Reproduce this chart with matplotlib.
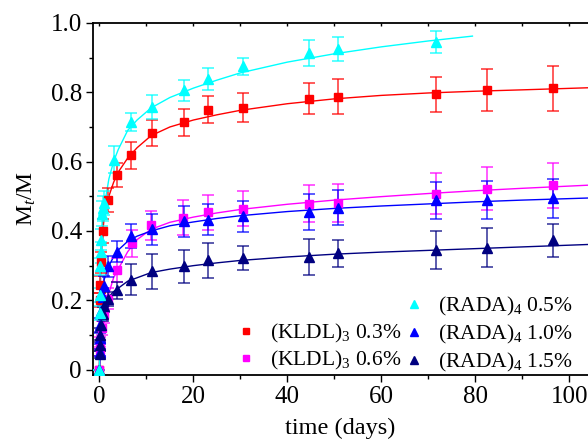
import numpy as np
import matplotlib
matplotlib.use("Agg")
import matplotlib.pyplot as plt
from matplotlib.lines import Line2D
from matplotlib.ticker import MultipleLocator

plt.rcParams['font.family'] = ['Liberation Serif', 'DejaVu Serif']
plt.rcParams['mathtext.fontset'] = 'custom'
plt.rcParams['mathtext.rm'] = 'Liberation Serif'
plt.rcParams['mathtext.it'] = 'Liberation Serif:italic'

# measured points: time (days), Mt/M, error
t_k03 = [0, 0.08, 0.17, 0.33, 0.67, 1.8, 3.7, 6.7, 11.1, 17.9, 23.1, 30.6, 44.7, 50.7, 71.6, 82.6, 96.6]
y_k03 = [0, 0.20, 0.245, 0.31, 0.40, 0.49, 0.561, 0.618, 0.683, 0.713, 0.750, 0.755, 0.782, 0.787, 0.794, 0.806, 0.811]
e_k03 = [0, 0.02, 0.025, 0.03, 0.035, 0.035, 0.035, 0.038, 0.038, 0.04, 0.04, 0.042, 0.046, 0.05, 0.05, 0.06, 0.066]

t_k06 = [0, 0.08, 0.17, 0.5, 1.0, 1.8, 3.8, 6.9, 11.0, 17.7, 23.0, 30.6, 44.7, 50.7, 71.6, 82.6, 96.6]
y_k06 = [0, 0.05, 0.08, 0.12, 0.16, 0.205, 0.287, 0.364, 0.416, 0.438, 0.454, 0.464, 0.479, 0.481, 0.507, 0.522, 0.532]
e_k06 = [0, 0.01, 0.015, 0.02, 0.025, 0.03, 0.035, 0.04, 0.043, 0.05, 0.05, 0.05, 0.054, 0.054, 0.059, 0.062, 0.065]

t_r10 = [0, 0.04, 0.08, 0.17, 0.33, 0.67, 1.0, 1.9, 3.8, 6.7, 11.1, 17.9, 23.1, 30.6, 44.7, 50.7, 71.6, 82.6, 96.6]
y_r10 = [0, 0.05, 0.09, 0.13, 0.17, 0.21, 0.24, 0.298, 0.34, 0.385, 0.405, 0.428, 0.433, 0.442, 0.455, 0.467, 0.488, 0.489, 0.494]
e_r10 = [0, 0.01, 0.015, 0.02, 0.025, 0.025, 0.03, 0.03, 0.03, 0.035, 0.045, 0.045, 0.045, 0.045, 0.051, 0.05, 0.053, 0.055, 0.056]

t_r15 = [0, 0.04, 0.08, 0.17, 0.33, 0.67, 1.0, 1.9, 3.8, 6.7, 11.1, 17.9, 23.1, 30.6, 44.7, 50.7, 71.6, 82.6, 96.6]
y_r15 = [0, 0.045, 0.07, 0.10, 0.13, 0.16, 0.185, 0.204, 0.229, 0.26, 0.284, 0.298, 0.315, 0.322, 0.325, 0.335, 0.346, 0.352, 0.373]
e_r15 = [0, 0.01, 0.015, 0.02, 0.02, 0.02, 0.02, 0.02, 0.025, 0.046, 0.05, 0.048, 0.05, 0.035, 0.053, 0.04, 0.055, 0.056, 0.047]

t_r05 = [0, 0.04, 0.08, 0.17, 0.25, 0.33, 0.5, 0.75, 1.0, 3.0, 6.7, 11.1, 17.9, 23.1, 30.6, 44.7, 50.7, 71.6]
y_r05 = [0, 0.164, 0.216, 0.298, 0.338, 0.375, 0.45, 0.465, 0.48, 0.606, 0.714, 0.758, 0.806, 0.839, 0.875, 0.914, 0.924, 0.945]
e_r05 = [0, 0.02, 0.02, 0.025, 0.03, 0.03, 0.035, 0.035, 0.035, 0.04, 0.025, 0.035, 0.03, 0.032, 0.025, 0.038, 0.035, 0.033]

# fitted curves
ct = [0, 0.1, 0.3, 0.6, 1, 2, 3, 4, 6, 8, 11, 15, 20, 25, 30, 40, 50, 60, 70, 80, 90, 104]
cy_k03 = [0, 0.20, 0.30, 0.38, 0.44, 0.50, 0.54, 0.57, 0.61, 0.64, 0.675, 0.70, 0.72, 0.735, 0.748, 0.767, 0.781, 0.791, 0.798, 0.803, 0.807, 0.813]
cy_k06 = [0, 0.03, 0.07, 0.11, 0.15, 0.22, 0.265, 0.29, 0.34, 0.375, 0.405, 0.425, 0.44, 0.452, 0.462, 0.477, 0.489, 0.499, 0.508, 0.516, 0.523, 0.532]
cy_r10 = [0, 0.08, 0.15, 0.22, 0.26, 0.30, 0.325, 0.345, 0.37, 0.385, 0.40, 0.415, 0.426, 0.436, 0.444, 0.456, 0.465, 0.472, 0.478, 0.484, 0.489, 0.495]
cy_r15 = [0, 0.08, 0.13, 0.17, 0.19, 0.21, 0.225, 0.235, 0.255, 0.265, 0.28, 0.29, 0.30, 0.308, 0.315, 0.325, 0.333, 0.339, 0.344, 0.349, 0.354, 0.361]
ct_r05 = [0, 0.1, 0.3, 0.6, 1, 2, 3, 4, 6, 8, 11, 15, 20, 25, 30, 40, 50, 60, 70, 79.4]
cy_r05 = [0, 0.2, 0.32, 0.41, 0.47, 0.55, 0.60, 0.635, 0.69, 0.72, 0.755, 0.785, 0.812, 0.835, 0.856, 0.887, 0.911, 0.931, 0.948, 0.962]

fig = plt.figure(figsize=(5.88, 4.41), dpi=100)
ax = fig.add_axes([0.158, 0.150, 0.842, 0.798])


def series(t, y, e, ct_, cy_, col, mk, ms):
    ax.plot(ct_, cy_, '-', color=col, lw=1.0, zorder=2)
    ax.errorbar(t, y, yerr=e, fmt='none', ecolor=col, elinewidth=1.2,
                capsize=4, capthick=1.2, alpha=0.75, zorder=3)
    ax.plot(t, y, mk, color=col, ms=ms, ls='none', zorder=4)


series(t_k03, y_k03, e_k03, ct, cy_k03, '#ff0000', 's', 6)
series(t_k06, y_k06, e_k06, ct, cy_k06, '#ff00ff', 's', 6)
series(t_r10, y_r10, e_r10, ct, cy_r10, '#0000ff', '^', 7)
series(t_r15, y_r15, e_r15, ct, cy_r15, '#000080', '^', 7)
series(t_r05, y_r05, e_r05, ct_r05, cy_r05, '#00ffff', '^', 7)

ax.set_xlim(-1.4, 104)
ax.set_ylim(-0.015, 1.0)
ax.spines['right'].set_visible(False)
for s in ['left', 'bottom', 'top']:
    ax.spines[s].set_linewidth(1.3)

ax.xaxis.set_major_locator(MultipleLocator(20))
ax.xaxis.set_minor_locator(MultipleLocator(10))
ax.yaxis.set_major_locator(MultipleLocator(0.2))
ax.yaxis.set_minor_locator(MultipleLocator(0.1))
ax.tick_params(which='major', direction='out', length=5, width=1.0, labelsize=18,
               pad=3, top=False, right=False)
ax.tick_params(which='minor', direction='out', length=3, width=1.0, top=False, right=False)
ax.set_yticks([0, 0.2, 0.4, 0.6, 0.8, 1.0])
ax.set_yticklabels(['0', '0.2', '0.4', '0.6', '0.8', '1.0'])

# small inward ticks along the top spine
sec = ax.secondary_xaxis('top')
sec.xaxis.set_major_locator(MultipleLocator(10))
sec.tick_params(direction='in', length=2.5, width=1.0, labeltop=False)
sec.spines['top'].set_visible(False)

ax.set_xlabel('time (days)', fontsize=17.5, labelpad=7)
ax.set_ylabel('M$_t$/M', fontsize=17, labelpad=9)

blank = Line2D([], [], ls='none', marker='none')
h = [blank,
     Line2D([], [], ls='none', marker='s', color='#ff0000', ms=5),
     Line2D([], [], ls='none', marker='s', color='#ff00ff', ms=5),
     Line2D([], [], ls='none', marker='^', color='#00ffff', ms=6),
     Line2D([], [], ls='none', marker='^', color='#0000ff', ms=6),
     Line2D([], [], ls='none', marker='^', color='#000080', ms=6)]
lab = ['', '(KLDL)$_3$ 0.3%', '(KLDL)$_3$ 0.6%',
       '(RADA)$_4$ 0.5%', '(RADA)$_4$ 1.0%', '(RADA)$_4$ 1.5%']
ax.legend(h, lab, ncol=2, frameon=False, fontsize=15.5, loc='lower right',
          bbox_to_anchor=(1.0, -0.04), handlelength=1.0, handletextpad=0.6,
          columnspacing=0.1, labelspacing=0.22, borderaxespad=0.3)

fig.savefig('out.png', dpi=100)
